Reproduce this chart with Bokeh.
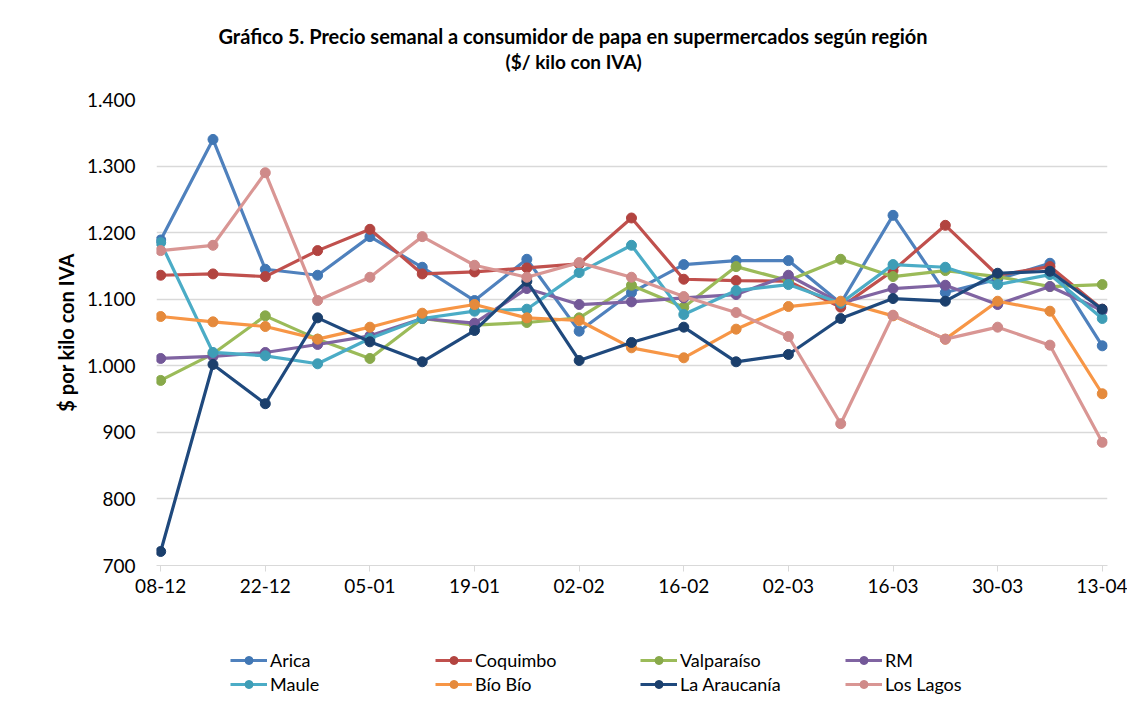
from bokeh.plotting import figure
from bokeh.layouts import column
from bokeh.models import FixedTicker, Legend, LegendItem, Title, Range1d
from bokeh.embed import file_html
from bokeh.resources import INLINE

weeks = ["08-12", "15-12", "22-12", "29-12", "05-01", "12-01", "19-01", "26-01", "02-02", "09-02",
         "16-02", "23-02", "02-03", "09-03", "16-03", "23-03", "30-03", "06-04", "13-04"]

arica = [1189, 1340, 1145, 1136, 1194, 1148, 1098, 1160, 1052, 1110, 1152, 1158, 1158, 1094, 1226, 1110, 1130, 1154, 1030]
coquimbo = [1136, 1138, 1134, 1173, 1205, 1138, 1141, 1147, 1153, 1222, 1130, 1128, 1127, 1088, 1143, 1211, 1136, 1149, 1085]
valparaiso = [978, 1018, 1075, 1040, 1011, 1071, 1061, 1065, 1072, 1121, 1088, 1149, 1128, 1160, 1134, 1143, 1134, 1119, 1122]
rm = [1011, 1014, 1020, 1032, 1045, 1071, 1064, 1116, 1092, 1096, 1102, 1107, 1136, 1094, 1116, 1121, 1092, 1119, 1083]
maule = [1185, 1020, 1015, 1003, 1041, 1071, 1082, 1085, 1140, 1181, 1077, 1113, 1122, 1094, 1152, 1148, 1122, 1137, 1071]
biobio = [1074, 1066, 1059, 1040, 1058, 1079, 1092, 1072, 1068, 1027, 1012, 1055, 1089, 1097, 1075, 1040, 1097, 1082, 958]
araucania = [721, 1002, 943, 1072, 1036, 1006, 1053, 1127, 1008, 1035, 1058, 1006, 1017, 1071, 1101, 1097, 1139, 1142, 1085]
loslagos = [1173, 1181, 1290, 1098, 1133, 1194, 1151, 1133, 1155, 1133, 1104, 1080, 1044, 913, 1076, 1040, 1058, 1031, 885]

series_names = ["Arica", "Coquimbo", "Valparaíso", "RM", "Maule", "Bío Bío", "La Araucanía", "Los Lagos"]
series_values = [arica, coquimbo, valparaiso, rm, maule, biobio, araucania, loslagos]
line_colors = ["#4F81BD", "#C0504D", "#9BBB59", "#8064A2", "#4BACC6", "#F79646", "#1F497D", "#D99694"]
marker_colors = ["#4177B4", "#B24440", "#88A94A", "#735898", "#3E9DB6", "#E58A3C", "#1B3F6C", "#CF8A89"]

y_ticks = [700, 800, 900, 1000, 1100, 1200, 1300, 1400]
y_tick_labels = ["700", "800", "900", "1.000", "1.100", "1.200", "1.300", "1.400"]

FONT = "Lato"
GRID = "#d9d9d9"

x_idx = list(range(len(weeks)))

p1 = figure(width=1127, height=610, output_backend="svg", toolbar_location=None,
            x_range=Range1d(-0.08, 18.1), y_range=Range1d(700, 1400),
            min_border_left=156, min_border_right=20, min_border_top=99, min_border_bottom=45)
p1.outline_line_color = None
p1.background_fill_color = "white"
p1.border_fill_color = "white"

p1.xaxis.ticker = FixedTicker(ticks=x_idx[::2])
p1.xaxis.major_label_overrides = {i: weeks[i] for i in x_idx}
p1.xaxis.axis_line_color = GRID
p1.xaxis.major_tick_line_color = GRID
p1.xaxis.major_tick_out = 6
p1.xaxis.major_tick_in = 0
p1.xaxis.minor_tick_line_color = None
p1.xaxis.major_label_text_font = FONT
p1.xaxis.major_label_text_font_size = "19px"
p1.xaxis.major_label_text_color = "#000000"
p1.xaxis.major_label_standoff = 7

p1.yaxis.ticker = FixedTicker(ticks=y_ticks)
p1.yaxis.major_label_overrides = dict(zip(y_ticks, y_tick_labels))
p1.yaxis.axis_line_color = None
p1.yaxis.major_tick_line_color = None
p1.yaxis.minor_tick_line_color = None
p1.yaxis.major_label_text_font = FONT
p1.yaxis.major_label_text_font_size = "19px"
p1.yaxis.major_label_text_color = "#000000"
p1.yaxis.major_label_standoff = 15
p1.yaxis.axis_label = "$ por kilo con IVA"
p1.yaxis.axis_label_text_font = FONT
p1.yaxis.axis_label_text_font_style = "bold"
p1.yaxis.axis_label_text_font_size = "20px"
p1.yaxis.axis_label_text_color = "#000000"
p1.yaxis.axis_label_standoff = 6

p1.xgrid.grid_line_color = None
p1.ygrid.grid_line_color = GRID
p1.ygrid.grid_line_width = 1.5

for vals, lc, mc in zip(series_values, line_colors, marker_colors):
    p1.line(x_idx, vals, line_color=lc, line_width=3.2)
    p1.scatter(x_idx, vals, size=10, fill_color=mc, line_color=mc)

# titles (first added = closest to the plot area)
p1.add_layout(Title(text=" ", text_font_size="1px", standoff=24), "above")
p1.add_layout(Title(text="($/ kilo con IVA)", align="left", offset=349, standoff=0,
                    text_font=FONT, text_font_style="bold", text_font_size="19px",
                    text_color="#000000"), "above")
p1.add_layout(Title(text="Gráfico 5. Precio semanal a consumidor de papa en supermercados según región",
                    align="left", offset=62, standoff=0,
                    text_font=FONT, text_font_style="bold", text_font_size="20px",
                    text_color="#000000"), "above")

# legend strip below the chart (series drawn out of view; only their legend glyphs show)
p2 = figure(width=1127, height=93, output_backend="svg", toolbar_location=None,
            x_range=Range1d(0, 1), y_range=Range1d(0, 1),
            x_axis_type=None, y_axis_type=None, min_border=0)
p2.outline_line_color = None
p2.xgrid.grid_line_color = None
p2.ygrid.grid_line_color = None
p2.background_fill_color = "white"
p2.border_fill_color = "white"

items = []
for name, vals, lc, mc in zip(series_names, series_values, line_colors, marker_colors):
    lr = p2.line(x_idx, vals, line_color=lc, line_width=3.2)
    sr = p2.scatter(x_idx, vals, size=10, fill_color=mc, line_color=mc)
    items.append(LegendItem(label=name, renderers=[lr, sr]))

legend = Legend(items=items, orientation="horizontal", ncols=4, location=(74, 8),
                label_text_font=FONT, label_text_font_size="18px", label_text_color="#000000",
                glyph_width=37, glyph_height=20, label_height=20, label_width=163,
                label_standoff=3, spacing=2, padding=0, margin=0,
                border_line_color=None, background_fill_alpha=0)
p2.add_layout(legend, "center")

layout = column(p1, p2, spacing=0)
open("out.html", "w").write(file_html(layout, INLINE))
